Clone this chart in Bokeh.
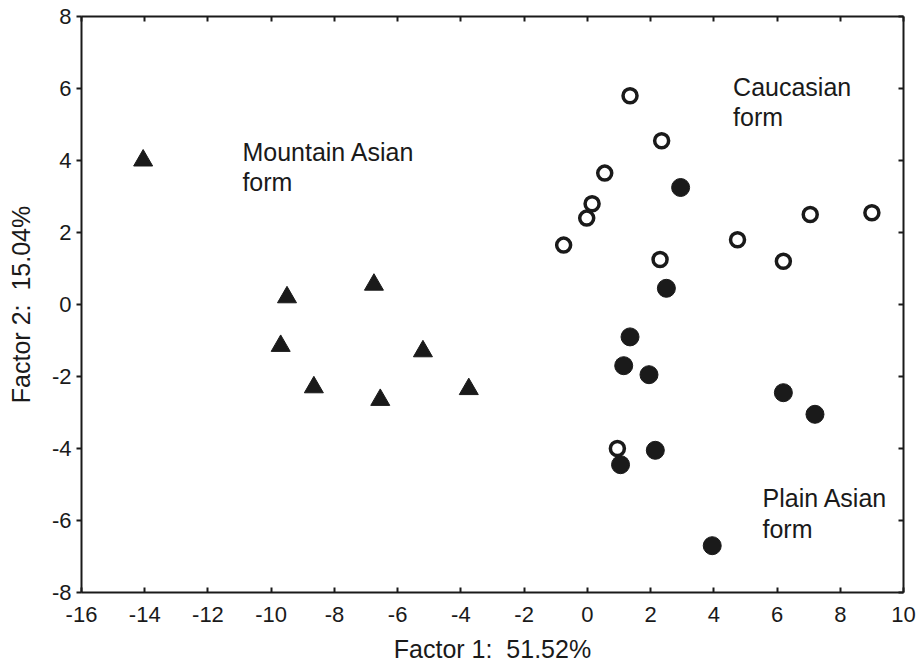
from bokeh.plotting import figure
from bokeh.models import LinearAxis, FixedTicker, Range1d, CustomLabelingPolicy
from bokeh.core.properties import value
from bokeh.embed import file_html
from bokeh.resources import INLINE

# Mountain Asian form (filled triangles)
mountain_x = [-14.05, -9.5, -9.7, -8.65, -6.75, -6.55, -5.2, -3.75]
mountain_y = [4.0, 0.2, -1.15, -2.3, 0.55, -2.65, -1.3, -2.35]

# Caucasian form (open circles)
caucasian_x = [-0.75, -0.02, 0.15, 0.55, 1.35, 2.35, 2.3, 4.75, 6.2, 7.05, 9.0, 0.95]
caucasian_y = [1.65, 2.4, 2.8, 3.65, 5.8, 4.55, 1.25, 1.8, 1.2, 2.5, 2.55, -4.0]

# Plain Asian form (filled circles)
plain_x = [2.95, 2.5, 1.35, 1.15, 1.95, 6.2, 7.2, 2.15, 1.05, 3.95]
plain_y = [3.25, 0.45, -0.9, -1.7, -1.95, -2.45, -3.05, -4.05, -4.45, -6.7]

# Group labels
label_text = ["Mountain Asian", "form", "Caucasian", "form", "Plain Asian", "form"]
label_x = [-10.91, -10.91, 4.61, 4.61, 5.54, 5.54]
label_y = [4.23, 3.40, 6.04, 5.20, -5.37, -6.23]

# Ticks
x_ticks = [-16, -14, -12, -10, -8, -6, -4, -2, 0, 2, 4, 6, 8, 10]
x_tick_labels = ["-16", "-14", "-12", "-10", "-8", "-6", "-4", "-2", "0", "2", "4", "6", "8", "10"]
y_ticks = [-8, -6, -4, -2, 0, 2, 4, 6, 8]
y_tick_labels = ["-8", "-6", "-4", "-2", "0", "2", "4", "6", "8"]

x_title = "Factor 1: \u00a051.52%"
y_title = "Factor 2: \u00a015.04%"

FONT = "Liberation Sans"
INK = "#1a1a1a"

p = figure(width=918, height=666, output_backend="svg", toolbar_location=None,
           x_range=Range1d(-16, 10), y_range=Range1d(-8, 8),
           x_axis_label=x_title, y_axis_label=y_title)
p.min_border_left = 81
p.min_border_top = 16
p.min_border_right = 15
p.min_border_bottom = 74
p.grid.visible = False
p.outline_line_color = None
p.background_fill_color = "white"
p.border_fill_color = "white"

xt = FixedTicker(ticks=x_ticks)
yt = FixedTicker(ticks=y_ticks)

def style_axis(ax, tick_in, tick_out):
    ax.axis_line_color = INK
    ax.axis_line_width = 2
    ax.major_tick_line_color = INK
    ax.major_tick_line_width = 2
    ax.major_tick_in = tick_in
    ax.major_tick_out = tick_out
    ax.minor_tick_line_color = None
    ax.major_label_text_font = FONT
    ax.major_label_text_font_size = "22px"
    ax.major_label_text_color = INK
    ax.axis_label_text_font = FONT
    ax.axis_label_text_font_size = "25px"
    ax.axis_label_text_font_style = "normal"
    ax.axis_label_text_color = INK

xa = p.xaxis[0]
xa.ticker = xt
xa.major_label_overrides = dict(zip(x_ticks, x_tick_labels))
style_axis(xa, 5, 0)
xa.major_label_standoff = 14
xa.axis_label_standoff = 10

ya = p.yaxis[0]
ya.ticker = yt
ya.major_label_overrides = dict(zip(y_ticks, y_tick_labels))
style_axis(ya, 0, 5)
ya.major_label_standoff = 5
ya.axis_label_standoff = 14

hide_code = """
for (const i of [...indices]) { indices.unset(i) }
return indices
"""

top = LinearAxis(ticker=xt)
style_axis(top, 5, 0)
top.major_label_text_font_size = "0px"
top.major_label_standoff = 0
top.major_label_policy = CustomLabelingPolicy(code=hide_code)
p.add_layout(top, "above")

right = LinearAxis(ticker=yt)
style_axis(right, 5, 0)
right.major_label_text_font_size = "0px"
right.major_label_standoff = 0
right.major_label_policy = CustomLabelingPolicy(code=hide_code)
p.add_layout(right, "right")

p.scatter(mountain_x, mountain_y, marker="triangle", size=19,
          fill_color=INK, line_color=INK, line_width=1)
p.scatter(caucasian_x, caucasian_y, marker="circle", size=14,
          fill_color="white", line_color=INK, line_width=3.5)
p.scatter(plain_x, plain_y, marker="circle", size=18,
          fill_color=INK, line_color=INK, line_width=1)

p.text(label_x, label_y, text=label_text, text_font=value(FONT),
       text_font_size="25px", text_color=INK, text_align="left",
       text_baseline="alphabetic")

open("out.html", "w").write(file_html(p, INLINE))
